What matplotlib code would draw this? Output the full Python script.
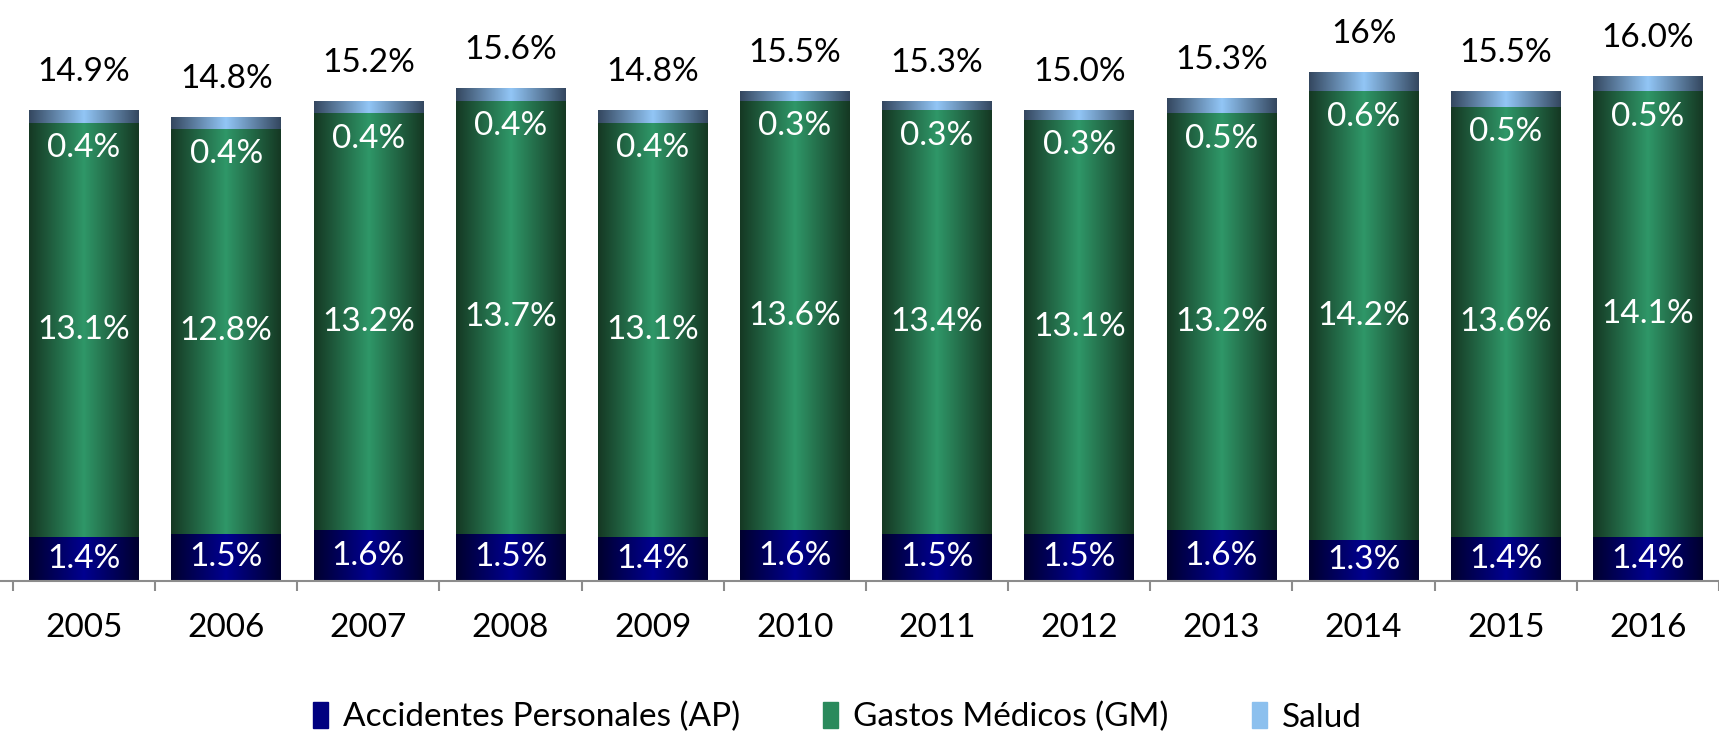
import numpy as np
import matplotlib.pyplot as plt
from matplotlib.colors import LinearSegmentedColormap
from matplotlib.patches import Patch

# data (%)
years = ['2005', '2006', '2007', '2008', '2009', '2010',
         '2011', '2012', '2013', '2014', '2015', '2016']
ap = [1.4, 1.5, 1.6, 1.5, 1.4, 1.6, 1.5, 1.5, 1.6, 1.3, 1.4, 1.4]
gm = [13.1, 12.8, 13.2, 13.7, 13.1, 13.6, 13.4, 13.1, 13.2, 14.2, 13.6, 14.1]
salud = [0.4, 0.4, 0.4, 0.4, 0.4, 0.3, 0.3, 0.3, 0.5, 0.6, 0.5, 0.5]
totals = ['14.9%', '14.8%', '15.2%', '15.6%', '14.8%', '15.5%',
          '15.3%', '15.0%', '15.3%', '16%', '15.5%', '16.0%']

plt.rcParams['font.family'] = ['Lato', 'DejaVu Sans']

fig = plt.figure(figsize=(17.19, 7.32), dpi=100)
ax = fig.add_axes([0, 0, 1, 1])

x = np.arange(len(years))
w = 0.77
ap_arr = np.array(ap)
gm_arr = np.array(gm)
sal_arr = np.array(salud)

# bar layers: values, bottoms, gradient (edge, centre, edge)
layers = [
    (ap_arr, 0, ['#00002e', '#000090', '#00002e']),
    (gm_arr, ap_arr, ['#153823', '#2f9768', '#153823']),
    (sal_arr, ap_arr + gm_arr, ['#34475f', '#92c6f6', '#34475f']),
]

grad = np.linspace(0, 1, 256).reshape(1, -1)
for vals, bottom, cols in layers:
    cmap = LinearSegmentedColormap.from_list('g', cols)
    bars = ax.bar(x, vals, w, bottom=bottom, color=cols[1], linewidth=0)
    for p in bars:
        bb = p.get_bbox()
        im = ax.imshow(grad, cmap=cmap, aspect='auto', zorder=2,
                       extent=[bb.x0, bb.x1, bb.y0, bb.y1])
        im.set_clip_path(p)

# labels
fs = 24
for i in range(len(years)):
    ax.text(x[i], ap[i] / 2, f'{ap[i]:.1f}%', ha='center', va='center',
            color='white', fontsize=fs, zorder=5)
    ax.text(x[i], ap[i] + gm[i] / 2, f'{gm[i]:.1f}%', ha='center', va='center',
            color='white', fontsize=fs, zorder=5)
    ax.text(x[i], ap[i] + gm[i] - 0.8, f'{salud[i]:.1f}%', ha='center', va='center',
            color='white', fontsize=fs, zorder=5)
    top = ap[i] + gm[i] + salud[i]
    ax.text(x[i], top + 1.2, totals[i], ha='center', va='center',
            color='black', fontsize=fs, zorder=5)

ax.set_xlim(-0.591, 11.405)
ax.set_ylim(-4.78, 18.39)

for s in ['top', 'left', 'right']:
    ax.spines[s].set_visible(False)
ax.spines['bottom'].set_position(('data', 0))
ax.spines['bottom'].set_color('#8c8c8c')
ax.spines['bottom'].set_linewidth(1.5)
ax.spines['bottom'].set_zorder(4)

ax.set_xticks(np.arange(len(years) + 1) - 0.5)
ax.set_xticklabels([])
ax.tick_params(axis='x', which='major', length=7.5, width=1.5, color='#8c8c8c')
ax.set_xticks(x, minor=True)
ax.set_xticklabels(years, minor=True, fontsize=fs)
ax.tick_params(axis='x', which='minor', length=0, pad=23)
ax.set_yticks([])

handles = [Patch(color='#000080'), Patch(color='#2a8a5c'), Patch(color='#8cc0ee')]
names = ['Accidentes Personales (AP)', 'Gastos Médicos (GM)', 'Salud']
fig.legend(handles, names, loc='center', bbox_to_anchor=(0.487, 0.02),
           ncol=3, frameon=False, fontsize=fs, handlelength=0.45,
           handleheight=0.8, handletextpad=0.45, columnspacing=2.5)

fig.savefig('out.png', dpi=100)
